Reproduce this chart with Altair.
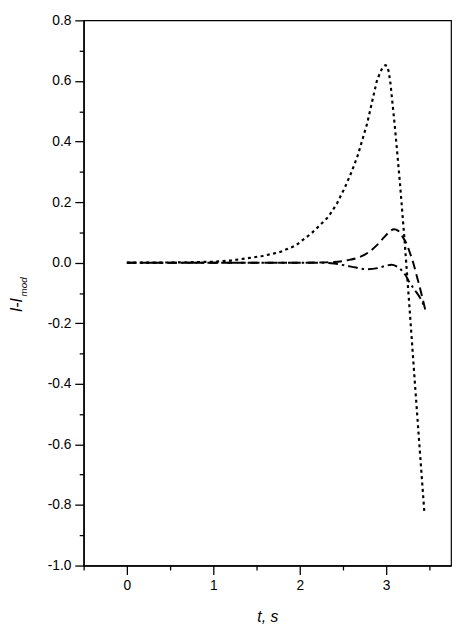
import altair as alt
import pandas as pd

# ---- data ----
t_dot = [0.0, 0.5, 1.0, 1.2, 1.38, 1.57, 1.76, 1.95, 2.14, 2.33, 2.43, 2.52, 2.6, 2.67,
         2.78, 2.89, 2.93, 2.96, 2.99, 3.01, 3.03, 3.05, 3.10, 3.16, 3.216, 3.27, 3.33,
         3.386, 3.443]
v_dot = [0.0, 0.0005, 0.003, 0.007, 0.014, 0.022, 0.034, 0.056, 0.098, 0.151, 0.195, 0.247,
         0.3, 0.353, 0.46, 0.598, 0.628, 0.645, 0.652, 0.65, 0.63, 0.59, 0.45, 0.26, 0.06,
         -0.15, -0.39, -0.61, -0.83]

t_dash = [0.0, 1.0, 2.0, 2.3, 2.4, 2.55, 2.67, 2.80, 2.89, 2.98, 3.04, 3.09, 3.14, 3.19,
          3.23, 3.27, 3.31, 3.35, 3.39, 3.454]
v_dash = [0.0, 0.0, 0.0, 0.001, 0.002, 0.008, 0.016, 0.035, 0.057, 0.085, 0.103, 0.11,
          0.105, 0.085, 0.066, 0.036, 0.002, -0.04, -0.083, -0.158]

t_dd = [0.0, 1.0, 2.0, 2.25, 2.4, 2.52, 2.65, 2.78, 2.9, 3.0, 3.06, 3.12, 3.16, 3.22,
        3.27, 3.33, 3.39, 3.45]
v_dd = [0.0, 0.0, 0.0, 0.0, -0.003, -0.009, -0.016, -0.022, -0.018, -0.01, -0.007, -0.012,
        -0.02, -0.04, -0.065, -0.09, -0.115, -0.15]

x_major = [0, 1, 2, 3]
x_minor = [-0.5, 0.5, 1.5, 2.5, 3.5]
y_major = [-1.0, -0.8, -0.6, -0.4, -0.2, 0.0, 0.2, 0.4, 0.6, 0.8]
y_minor = [-0.9, -0.7, -0.5, -0.3, -0.1, 0.1, 0.3, 0.5, 0.7]

x_title = "t, s"
y_title_main = "I-I"
y_title_sub = "mod"

FONT = "Liberation Sans"

df_dot = pd.DataFrame({"t": t_dot, "v": v_dot})
df_dash = pd.DataFrame({"t": t_dash, "v": v_dash})
df_dd = pd.DataFrame({"t": t_dd, "v": v_dd})

xs = alt.Scale(domain=[-0.5, 3.75], nice=False, zero=False)
ys = alt.Scale(domain=[-1.0, 0.8], nice=False, zero=False)

ax_x_major = alt.Axis(orient="bottom", values=x_major, format="d", tickSize=9, tickWidth=1.3,
                      domainWidth=1.5, labelFontSize=14, labelPadding=4, grid=False,
                      title=x_title, titleFont=FONT, titleFontSize=16, titleFontStyle="italic",
                      titleFontWeight="normal", titleY=57, titleBaseline="alphabetic")
ax_x_minor = alt.Axis(orient="bottom", values=x_minor, tickSize=4.5, tickWidth=1.3,
                      labels=False, domain=False, grid=False, title=None)
ax_y_major = alt.Axis(orient="left", values=y_major, tickSize=9, tickWidth=1.3,
                      domainWidth=1.5, labelFontSize=14, labelPadding=4, grid=False,
                      labelExpr="datum.value < 0 ? '-' + format(-datum.value, '.1f') : format(datum.value, '.1f')",
                      title=None)
ax_y_minor = alt.Axis(orient="left", values=y_minor, tickSize=4.5, tickWidth=1.3,
                      labels=False, domain=False, grid=False, title=None)

dot = alt.Chart(df_dot).mark_line(color="black", strokeWidth=2.2, strokeDash=[3, 3.5],
                                  interpolate="linear").encode(
    x=alt.X("t:Q", scale=xs, axis=ax_x_major),
    y=alt.Y("v:Q", scale=ys, axis=ax_y_major),
)
dash = alt.Chart(df_dash).mark_line(color="black", strokeWidth=2, strokeDash=[9, 5],
                                    interpolate="monotone").encode(
    x=alt.X("t:Q", scale=xs, axis=ax_x_minor),
    y=alt.Y("v:Q", scale=ys, axis=ax_y_minor),
)
dd = alt.Chart(df_dd).mark_line(color="black", strokeWidth=2, strokeDash=[10, 4, 2.5, 4],
                                interpolate="monotone").encode(
    x=alt.X("t:Q", scale=xs, axis=None),
    y=alt.Y("v:Q", scale=ys, axis=None),
)

t_main = alt.Chart(pd.DataFrame({"s": [y_title_main]})).mark_text(
    angle=270, align="left", baseline="alphabetic", font=FONT, fontSize=16,
    fontStyle="italic", color="black"
).encode(text="s:N", x=alt.value(-63), y=alt.value(297))

t_sub = alt.Chart(pd.DataFrame({"s": [y_title_sub]})).mark_text(
    angle=270, align="left", baseline="alphabetic", font=FONT, fontSize=10,
    fontStyle="italic", color="black"
).encode(text="s:N", x=alt.value(-58), y=alt.value(281))

chart = alt.layer(dot, dash, dd, t_main, t_sub).resolve_axis(
    x="independent", y="independent"
).properties(
    width=374, height=555,
    autosize=alt.AutoSizeParams(type="none"),
    padding={"left": 77, "top": 7, "right": 2, "bottom": 59},
).configure_view(
    stroke="black", strokeWidth=1.2
).configure_axis(
    domainColor="black", tickColor="black", labelColor="black", titleColor="black",
    labelFont=FONT, titleFont=FONT
)

chart.save("out.html", embed_options={"renderer": "svg", "actions": False})
